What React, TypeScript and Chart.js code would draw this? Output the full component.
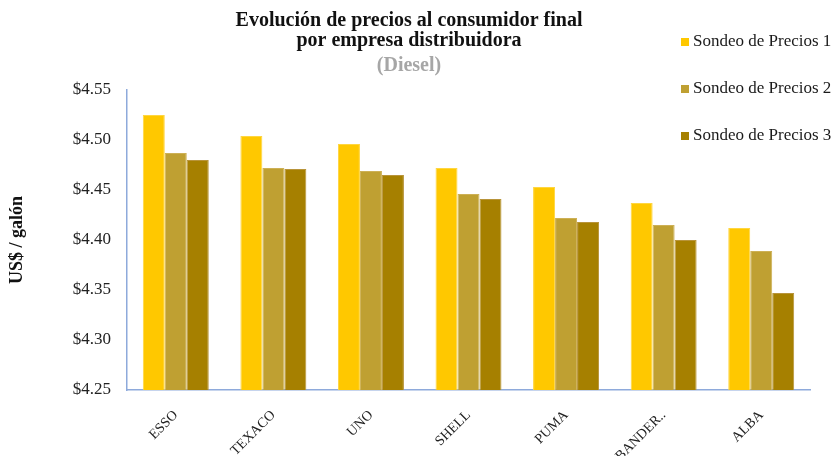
import React, { useEffect, useRef } from "react";
import { Chart, registerables } from "chart.js";

Chart.register(...registerables);

const categories = ["ESSO", "TEXACO", "UNO", "SHELL", "PUMA", "BANDER..", "ALBA"];
const sondeo1 = [4.525, 4.504, 4.496, 4.472, 4.453, 4.437, 4.412];
const sondeo2 = [4.487, 4.472, 4.469, 4.446, 4.422, 4.415, 4.389];
const sondeo3 = [4.48, 4.471, 4.465, 4.441, 4.418, 4.4, 4.347];
const seriesLabels = ["Sondeo de Precios 1", "Sondeo de Precios 2", "Sondeo de Precios 3"];
const seriesColors = ["#FFC800", "#BFA032", "#A68000"];
const seriesBorders = ["#FFD640", "#CDB055", "#B8943A"];
const titleLines = ["Evolución de precios al consumidor final", "por empresa distribuidora"];
const subtitleText = "(Diesel)";
const yTitle = "US$ / galón";
const yMin = 4.25;
const yMax = 4.55;
const yStep = 0.05;

const SERIF = '"Liberation Serif", "DejaVu Serif", serif';

const floatLegend = {
  id: "floatLegend",
  afterDraw(chart: any) {
    const ctx = chart.ctx;
    ctx.save();
    ctx.font = `17px ${SERIF}`;
    ctx.textBaseline = "middle";
    ctx.textAlign = "left";
    chart.data.datasets.forEach((ds: any, i: number) => {
      const y = 42 + i * 47;
      ctx.fillStyle = ds.backgroundColor;
      ctx.fillRect(681, y - 4, 8, 8);
      ctx.fillStyle = "#1a1a1a";
      ctx.fillText(ds.label, 693, y);
    });
    ctx.restore();
  },
};

export default function App() {
  const ref = useRef<HTMLCanvasElement | null>(null);
  useEffect(() => {
    if (!ref.current) return;
    const datasets = [sondeo1, sondeo2, sondeo3].map((d, i) => ({
      label: seriesLabels[i],
      data: d,
      backgroundColor: seriesColors[i],
      borderColor: seriesBorders[i],
      borderWidth: 1,
      categoryPercentage: 0.676,
      barPercentage: 1.0,
    }));
    const chart = new Chart(ref.current, {
      type: "bar",
      data: { labels: categories, datasets },
      plugins: [floatLegend],
      options: {
        animation: false,
        responsive: false,
        maintainAspectRatio: false,
        devicePixelRatio: 1,
        layout: { padding: { top: 0, left: 8, right: 27, bottom: 0 } },
        plugins: {
          legend: { display: false },
          tooltip: { enabled: false },
          title: {
            display: true,
            text: titleLines,
            color: "#111",
            font: { family: SERIF, size: 20, weight: "bold", lineHeight: 1.0 },
            padding: { top: 11, bottom: 5 },
          },
          subtitle: {
            display: true,
            text: subtitleText,
            color: "#A6A6A6",
            font: { family: SERIF, size: 20, weight: "bold", lineHeight: 1.0 },
            padding: { top: 0, bottom: 14 },
          },
        },
        scales: {
          x: {
            grid: { display: false, drawTicks: false },
            border: { display: true, color: "#8EAADB", width: 1.5 },
            ticks: {
              color: "#222",
              font: { family: SERIF, size: 14 },
              minRotation: 45,
              maxRotation: 45,
              padding: 17,
              autoSkip: false,
            },
            afterFit: (s: any) => {
              s.height = 66;
            },
          },
          y: {
            min: yMin,
            max: yMax,
            grid: { display: false, drawTicks: false },
            border: { display: true, color: "#8EAADB", width: 1.5 },
            ticks: {
              stepSize: yStep,
              color: "#222",
              font: { family: SERIF, size: 17 },
              padding: 16,
              callback: (v: any) => "$" + Number(v).toFixed(2),
            },
            title: {
              display: true,
              text: yTitle,
              color: "#111",
              font: { family: SERIF, size: 18, weight: "bold", lineHeight: 1.0 },
              padding: { top: 0, bottom: 0 },
            },
            afterFit: (s: any) => {
              s.width = 119;
            },
          },
        },
      },
    });
    return () => chart.destroy();
  }, []);
  return (
    <div style={{ position: "absolute", left: 0, top: 0, width: 837, height: 456, background: "#fff" }}>
      <canvas ref={ref} width={837} height={456} style={{ display: "block" }} />
    </div>
  );
}
